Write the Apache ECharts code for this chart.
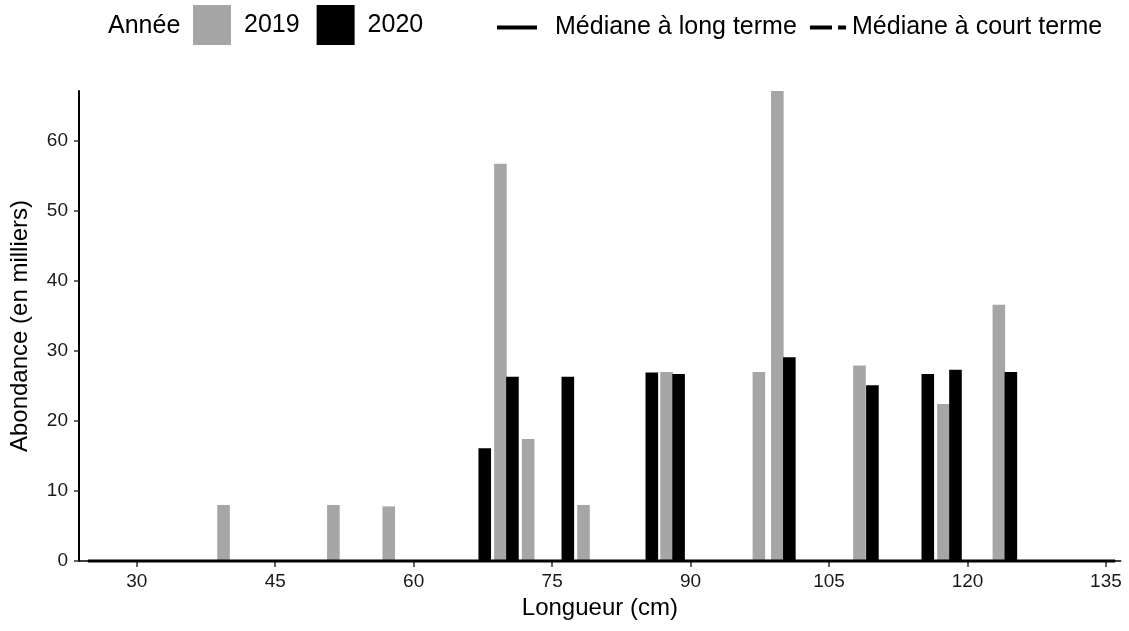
<!DOCTYPE html>
<html>
<head>
<meta charset="utf-8">
<script src="https://cdn.jsdelivr.net/npm/echarts@6/dist/echarts.min.js"></script>
<style>
html,body{margin:0;padding:0;background:#fff;}
#chart{width:1129px;height:631px;}
</style>
</head>
<body>
<div id="chart"></div>
<script>
// Data
const lengths2019 = [39.4, 51.3, 57.3, 69.4, 72.4, 78.4, 87.4, 97.4, 99.4, 108.3, 117.4, 123.4];
const abund2019   = [8.0, 8.0, 7.8, 56.7, 17.4, 8.0, 27.0, 27.0, 67.1, 27.9, 22.4, 36.6];
const lengths2020 = [67.7, 70.7, 76.7, 85.8, 88.7, 100.7, 109.7, 115.7, 118.7, 124.7];
const abund2020   = [16.1, 26.3, 26.3, 26.9, 26.7, 29.1, 25.1, 26.7, 27.3, 27.0];
const medianLongX = [24.7, 136.0];
const medianLongY = [0, 0];
const xTicks = [30, 45, 60, 75, 90, 105, 120, 135];
const yTicks = [0, 10, 20, 30, 40, 50, 60];

const pair = (xs, ys) => xs.map((x, i) => [x, ys[i]]);
const FONT = 'Liberation Sans, Arial, sans-serif';
const legendText = (pad) => ({ fontSize: 25, color: '#000', fontFamily: FONT, padding: [4, 0, 0, pad] });

const chart = echarts.init(document.getElementById('chart'));
chart.setOption({
  animation: false,
  backgroundColor: '#ffffff',
  textStyle: { fontFamily: FONT },
  graphic: [{
    type: 'text', left: 108, top: 14,
    style: { text: 'Année', fontSize: 25, fontFamily: FONT, fill: '#000' }
  }],
  legend: [{
    data: [{ name: '2019', icon: 'rect' }, { name: '2020', icon: 'rect' }],
    left: 193, top: 5,
    itemWidth: 38, itemHeight: 40, itemGap: 17,
    padding: 0,
    textStyle: legendText(8)
  }, {
    data: [{ name: 'Médiane à long terme', icon: 'path://M0,0H40V4H0Z' }],
    left: 497, top: 15,
    itemWidth: 40, itemHeight: 4,
    padding: 0,
    textStyle: legendText(13)
  }, {
    data: [{ name: 'Médiane à court terme', icon: 'path://M0,0H22V4H0Z M28,0H36V4H28Z' }],
    left: 810, top: 15,
    itemWidth: 36, itemHeight: 4,
    padding: 0,
    textStyle: legendText(1)
  }],
  grid: { left: 79, right: 8.3, top: 91, bottom: 70, containLabel: false },
  xAxis: {
    type: 'value', min: 23.74, max: 136.6,
    name: 'Longueur (cm)', nameLocation: 'middle', nameGap: 33,
    nameTextStyle: { fontSize: 24, color: '#000', fontFamily: FONT },
    axisLine: { show: true, onZero: false, lineStyle: { color: '#000', width: 1.5 } },
    axisTick: { show: true, length: 6, customValues: xTicks, lineStyle: { color: '#333', width: 1.5 } },
    axisLabel: { customValues: xTicks, fontSize: 19, color: '#1a1a1a', margin: 11, fontFamily: FONT },
    splitLine: { show: false }
  },
  yAxis: {
    type: 'value', min: 0, max: 67.1,
    name: 'Abondance (en milliers)', nameLocation: 'middle', nameGap: 47,
    nameTextStyle: { fontSize: 24, color: '#000', fontFamily: FONT },
    axisLine: { show: true, onZero: false, lineStyle: { color: '#000', width: 2 } },
    axisTick: { show: true, length: 5, customValues: yTicks, lineStyle: { color: '#333', width: 1.5 } },
    axisLabel: { customValues: yTicks, fontSize: 19, color: '#1a1a1a', margin: 11, fontFamily: FONT },
    splitLine: { show: false }
  },
  series: [{
    name: '2019', type: 'bar', barWidth: 12.6, barGap: '-100%',
    itemStyle: { color: '#a6a6a6' },
    data: pair(lengths2019, abund2019)
  }, {
    name: '2020', type: 'bar', barWidth: 12.6, barGap: '-100%',
    itemStyle: { color: '#000000' },
    data: pair(lengths2020, abund2020)
  }, {
    name: 'Médiane à long terme', type: 'line', symbol: 'none', z: 10, clip: false,
    lineStyle: { color: '#000', width: 3, type: 'solid' },
    itemStyle: { color: '#000' },
    data: pair(medianLongX, medianLongY)
  }, {
    // short-term median is not visible in the reference; kept for the legend only
    name: 'Médiane à court terme', type: 'line', symbol: 'none',
    lineStyle: { color: '#000', width: 3, type: [12, 6] },
    itemStyle: { color: '#000' },
    data: []
  }]
});
</script>
</body>
</html>
